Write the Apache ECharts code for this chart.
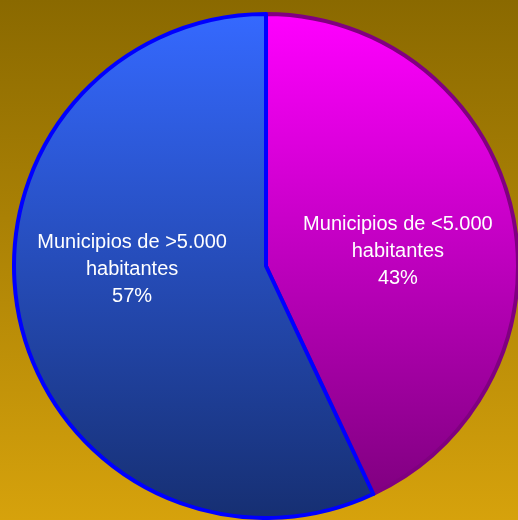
<!DOCTYPE html>
<html>
<head>
<meta charset="utf-8">
<script src="https://cdn.jsdelivr.net/npm/echarts@6/dist/echarts.min.js"></script>
<style>
  html, body { margin: 0; padding: 0; }
  #chart { width: 518px; height: 520px; }
</style>
</head>
<body>
<div id="chart"></div>
<script>
let categories = ['Municipios de <5.000\nhabitantes', 'Municipios de >5.000\nhabitantes']
let values = [43, 57]

let fills = [
  ['#ff00ff', '#7a007a'],
  ['#3569ff', '#162f72']
]
let borders = ['#800080', '#0000ff']
let offsets = [[6, 14], [-8, -25]]

let myChart = echarts.init(document.getElementById('chart'))

let grad = (c) => ({
  type: 'linear', x: 0, y: 13, x2: 0, y2: 519, global: true,
  colorStops: [{ offset: 0, color: c[0] }, { offset: 1, color: c[1] }]
})

let option = {
  backgroundColor: {
    type: 'linear', x: 0, y: 0, x2: 0, y2: 1,
    colorStops: [{ offset: 0, color: '#8a6900' }, { offset: 1, color: '#d6a20c' }]
  },
  animation: false,
  series: [{
    type: 'pie',
    center: [266, 266],
    radius: 252,
    startAngle: 90,
    clockwise: true,
    labelLine: { show: false },
    data: categories.map((name, i) => ({
      name,
      value: values[i],
      itemStyle: { color: grad(fills[i]), borderColor: borders[i], borderWidth: 4 },
      label: {
        show: true,
        position: 'inside',
        formatter: '{b}\n{d}%',
        offset: offsets[i],
        color: '#ffffff',
        fontFamily: 'Liberation Sans, Arial, sans-serif',
        fontSize: 20,
        lineHeight: 27,
        align: 'center'
      }
    }))
  }]
}
myChart.setOption(option)
</script>
</body>
</html>
